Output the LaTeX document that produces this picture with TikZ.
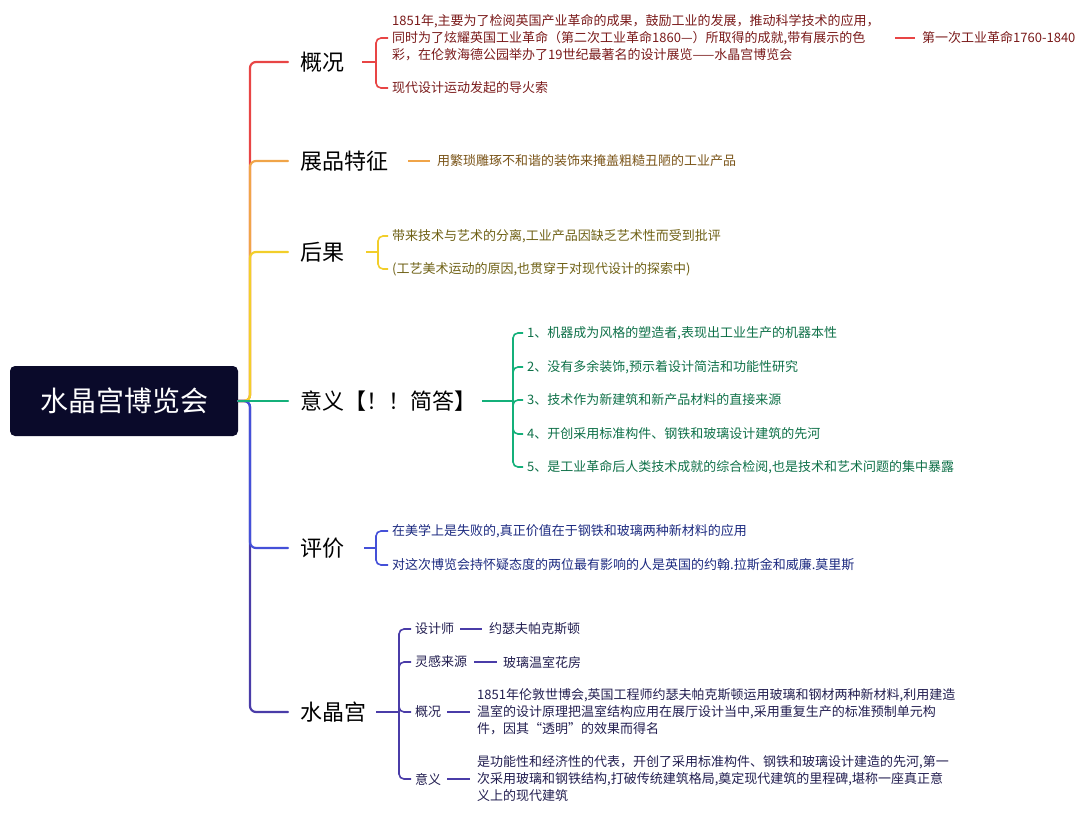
\documentclass[tikz,border=0pt]{standalone}
\usepackage{fontspec}
\setmainfont{Noto Sans CJK SC}
\begin{document}
\begin{tikzpicture}[x=1pt,y=-1pt,
  br/.style={line width=2.2pt,rounded corners=6pt,line cap=round},
  sb/.style={line width=1.6pt,rounded corners=5pt},
  main/.style={anchor=west,inner sep=0pt,font=\fontsize{22}{26}\selectfont},
  leaf/.style={anchor=west,inner sep=0pt,font=\fontsize{13}{17}\selectfont,align=left},
  ]
\definecolor{cK}{HTML}{0A0A2A}
\definecolor{cR}{HTML}{E84545}\definecolor{tR}{HTML}{7A1A1A}
\definecolor{cO}{HTML}{F0A448}\definecolor{tO}{HTML}{7A5418}
\definecolor{cY}{HTML}{F2CE2A}\definecolor{tY}{HTML}{6E6014}
\definecolor{cG}{HTML}{14B07A}\definecolor{tG}{HTML}{0E7048}
\definecolor{cB}{HTML}{4450D8}\definecolor{tB}{HTML}{1C2A80}
\definecolor{cP}{HTML}{4A3CA8}\definecolor{tP}{HTML}{221E50}
\useasboundingbox (0,0) rectangle (1090,816);
\node[fill=cK,rounded corners=5pt,minimum width=228pt,minimum height=70pt,text=white,font=\fontsize{28}{32}\selectfont] (root) at (124,401) {水晶宫博览会};
\node[main] (a) at (300,62) {概况};
\node[main] (b) at (300,161) {展品特征};
\node[main] (c) at (300,252) {后果};
\node[main] (d) at (300,401) {意义【！！简答】};
\node[main] (e) at (300,548) {评价};
\node[main] (f) at (300,712) {水晶宫};
\draw[br,cR] (root.east) -- (250,401) -- (250,62) -- (288,62);
\draw[br,cO] (root.east) -- (250,401) -- (250,161) -- (288,161);
\draw[br,cY] (root.east) -- (250,401) -- (250,252) -- (288,252);
\draw[br,cP] (root.east) -- (250,401) -- (250,712) -- (288,712);
\draw[br,cB] (root.east) -- (250,401) -- (250,548) -- (288,548);
\draw[br,cG] (root.east) -- (288,401);
\node[leaf,text=tR] (a1) at (392,38) {1851年,主要为了检阅英国产业革命的成果，鼓励工业的发展，推动科学技术的应用，\\同时为了炫耀英国工业革命（第二次工业革命1860—）所取得的成就,带有展示的色\\彩，在伦敦海德公园举办了19世纪最著名的设计展览——水晶宫博览会};
\node[leaf,text=tR] (a2) at (392,88) {现代设计运动发起的导火索};
\node[leaf,text=tR] (a11) at (922,38) {第一次工业革命1760-1840};
\draw[sb,cR] (362,62) -- (376,62);
\draw[sb,cR] (388,38) -- (376,38) -- (376,62);
\draw[sb,cR] (388,88) -- (376,88) -- (376,62);
\draw[line width=1.6pt,cR] (895,38) -- (915,38);
\node[leaf,text=tO] (b1) at (437,161) {用繁琐雕琢不和谐的装饰来掩盖粗糙丑陋的工业产品};
\draw[line width=1.6pt,cO] (408,161) -- (430,161);
\node[leaf,text=tY] (c1) at (392,236) {带来技术与艺术的分离,工业产品因缺乏艺术性而受到批评};
\node[leaf,text=tY] (c2) at (392,269) {(工艺美术运动的原因,也贯穿于对现代设计的探索中)};
\draw[sb,cY] (366,252) -- (378,252);
\draw[sb,cY] (388,236) -- (378,236) -- (378,252);
\draw[sb,cY] (388,269) -- (378,269) -- (378,252);
\node[leaf,text=tG] (d1) at (527,333) {1、机器成为风格的塑造者,表现出工业生产的机器本性};
\node[leaf,text=tG] (d2) at (527,367) {2、没有多余装饰,预示着设计简洁和功能性研究};
\node[leaf,text=tG] (d3) at (527,400) {3、技术作为新建筑和新产品材料的直接来源};
\node[leaf,text=tG] (d4) at (527,434) {4、开创采用标准构件、钢铁和玻璃设计建筑的先河};
\node[leaf,text=tG] (d5) at (527,467) {5、是工业革命后人类技术成就的综合检阅,也是技术和艺术问题的集中暴露};
\draw[sb,cG] (482,401) -- (513,401);
\foreach \y in {333,367,400,434,467} \draw[sb,cG] (523,\y) -- (513,\y) -- (513,401);
\node[leaf,text=tB] (e1) at (392,531) {在美学上是失败的,真正价值在于钢铁和玻璃两种新材料的应用};
\node[leaf,text=tB] (e2) at (392,565) {对这次博览会持怀疑态度的两位最有影响的人是英国的约翰.拉斯金和威廉.莫里斯};
\draw[sb,cB] (364,548) -- (376,548);
\draw[sb,cB] (388,531) -- (376,531) -- (376,548);
\draw[sb,cB] (388,565) -- (376,565) -- (376,548);
\node[leaf,text=tP] (f1) at (415,629) {设计师};
\node[leaf,text=tP] (f2) at (415,662) {灵感来源};
\node[leaf,text=tP] (f3) at (415,712) {概况};
\node[leaf,text=tP] (f4) at (415,779) {意义};
\node[leaf,text=tP] (f11) at (489,629) {约瑟夫帕克斯顿};
\node[leaf,text=tP] (f21) at (503,662) {玻璃温室花房};
\node[leaf,text=tP] (f31) at (477,712) {1851年伦敦世博会,英国工程师约瑟夫帕克斯顿运用玻璃和钢材两种新材料,利用建造\\温室的设计原理把温室结构应用在展厅设计当中,采用重复生产的标准预制单元构\\件，因其“透明”的效果而得名};
\node[leaf,text=tP] (f41) at (477,779) {是功能性和经济性的代表，开创了采用标准构件、钢铁和玻璃设计建造的先河,第一\\次采用玻璃和钢铁结构,打破传统建筑格局,奠定现代建筑的里程碑,堪称一座真正意\\义上的现代建筑};
\draw[sb,cP] (376,712) -- (399,712);
\foreach \y in {629,662,712,779} \draw[sb,cP] (411,\y) -- (399,\y) -- (399,712);
\draw[line width=1.6pt,cP] (460,629) -- (482,629);
\draw[line width=1.6pt,cP] (474,662) -- (497,662);
\draw[line width=1.6pt,cP] (447,712) -- (470,712);
\draw[line width=1.6pt,cP] (447,779) -- (470,779);
\end{tikzpicture}
\end{document}
